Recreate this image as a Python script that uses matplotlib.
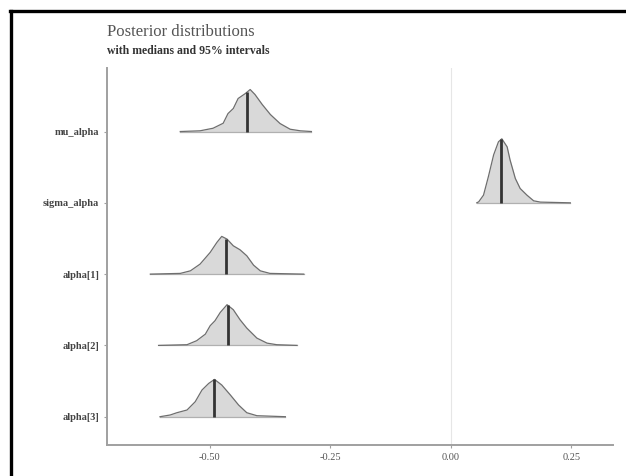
import matplotlib
matplotlib.use("Agg")
import matplotlib.pyplot as plt
import numpy as np
from matplotlib.lines import Line2D

# ── Data ──────────────────────────────────────────────────────────────────────
PARAMS = ["mu_alpha", "sigma_alpha", "alpha[1]", "alpha[2]", "alpha[3]"]

MU_X = [-0.561, -0.520, -0.493, -0.472, -0.462, -0.451, -0.441, -0.426,
        -0.416, -0.406, -0.391, -0.374, -0.354, -0.333, -0.312, -0.289]
MU_D = [0, 0.01, 0.046, 0.116, 0.252, 0.323, 0.463, 0.533,
        0.589, 0.519, 0.379, 0.238, 0.112, 0.032, 0.01, 0]

SIGMA_X = [0.054, 0.058, 0.068, 0.078, 0.089, 0.099, 0.106, 0.117,
           0.123, 0.134, 0.144, 0.158, 0.172, 0.186, 0.248]
SIGMA_D = [0, 0.014, 0.108, 0.365, 0.673, 0.856, 0.898, 0.785,
           0.603, 0.341, 0.201, 0.108, 0.028, 0.01, 0]

A1_X = [-0.623, -0.561, -0.540, -0.520, -0.499, -0.485, -0.475, -0.464,
        -0.451, -0.437, -0.423, -0.409, -0.395, -0.375, -0.305]
A1_D = [0, 0.01, 0.046, 0.14, 0.304, 0.445, 0.529, 0.491,
        0.397, 0.341, 0.257, 0.126, 0.046, 0.01, 0]

A2_X = [-0.606, -0.547, -0.527, -0.509, -0.499, -0.489, -0.478, -0.464,
        -0.451, -0.437, -0.423, -0.402, -0.381, -0.361, -0.319]
A2_D = [0, 0.01, 0.066, 0.158, 0.276, 0.346, 0.463, 0.571,
        0.501, 0.36, 0.243, 0.102, 0.032, 0.01, 0]

A3_X = [-0.603, -0.582, -0.568, -0.547, -0.530, -0.516, -0.502, -0.490,
        -0.475, -0.457, -0.440, -0.423, -0.402, -0.343]
A3_D = [0, 0.024, 0.056, 0.094, 0.21, 0.374, 0.467, 0.523,
        0.445, 0.304, 0.164, 0.056, 0.014, 0]

MEDIANS = [-0.4216, 0.1048, -0.4664, -0.463, -0.490]

X_TICKS = [-0.50, -0.25, 0.00, 0.25]
X_TICK_LABELS = ["-0.50", "-0.25", "0.00", "0.25"]

# ── Style ─────────────────────────────────────────────────────────────────────
SERIF = ["Liberation Serif", "DejaVu Serif"]
FILL = "#d9d9d9"
OUTLINE = "#6e6e6e"
MED_COL = "#333333"
AXIS_COL = "#a0a0a0"

curves = [(MU_X, MU_D), (SIGMA_X, SIGMA_D), (A1_X, A1_D), (A2_X, A2_D), (A3_X, A3_D)]
n = len(PARAMS)

fig = plt.figure(figsize=(6.26, 4.76), dpi=100)
ax = fig.add_axes([0.1709, 0.0651, 0.8079, 0.7919])

ax.axvline(0, color="#e6e6e6", linewidth=0.8, zorder=0)

for i, (name, (xs, ds), med) in enumerate(zip(PARAMS, curves, MEDIANS)):
    base = n - 1 - i
    xs = np.asarray(xs)
    ds = np.asarray(ds)
    ax.fill_between(xs, base, base + ds, color=FILL, linewidth=0, zorder=1)
    ax.plot([xs[0], xs[-1]], [base, base], color="#b0b0b0", linewidth=0.9, zorder=2)
    ax.plot(xs, base + ds, color=OUTLINE, linewidth=0.9, zorder=3)
    h = np.interp(med, xs, ds)
    ax.plot([med, med], [base, base + h], color=MED_COL, linewidth=2.0,
            solid_capstyle="butt", zorder=4)

ax.set_xlim(-0.713, 0.336)
ax.set_ylim(-0.397, n - 1 + 0.89)

ax.set_yticks(range(n))
ax.set_yticklabels(PARAMS[::-1], fontfamily=SERIF, fontweight="bold",
                   fontsize=7.5, color="#444444")
ax.set_xticks(X_TICKS)
ax.set_xticklabels(X_TICK_LABELS, fontfamily=SERIF, fontsize=7.5, color="#555555")
ax.tick_params(axis="both", length=2.5, width=0.8, color=AXIS_COL, pad=3)

for side in ["top", "right"]:
    ax.spines[side].set_visible(False)
for side in ["left", "bottom"]:
    ax.spines[side].set_color(AXIS_COL)
    ax.spines[side].set_linewidth(1.4)

fig.text(107 / 626, 1 - 32 / 476, "Posterior distributions", fontfamily=SERIF,
         fontsize=12, color="#555555", ha="left", va="center")
fig.text(107 / 626, 1 - 51 / 476, "with medians and 95% intervals", fontfamily=SERIF,
         fontsize=8.5, fontweight="bold", color="#333333", ha="left", va="center")

# black frame lines on the left and top edges
fig.add_artist(Line2D([11 / 626, 11 / 626], [0, 1 - 11 / 476],
                      transform=fig.transFigure, color="black", linewidth=2.4))
fig.add_artist(Line2D([10 / 626, 1], [1 - 11 / 476, 1 - 11 / 476],
                      transform=fig.transFigure, color="black", linewidth=2.4))

fig.savefig("out.png", dpi=100)
plt.close()
